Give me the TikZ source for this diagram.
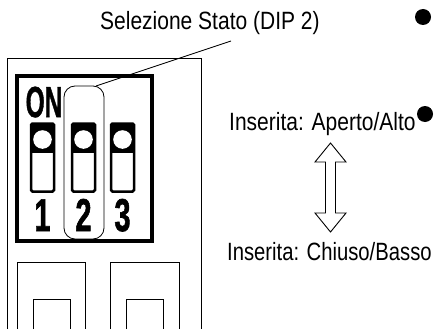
\documentclass[tikz,border=0pt]{standalone}
\usepackage{fontspec}
\setmainfont{Liberation Sans}
\newfontfamily\heavyfont{Liberation Sans Bold}[FakeBold=1.5]
\newcommand{\cond}[2][0.84]{\scalebox{#1}[1]{#2}}
\begin{document}
\begin{tikzpicture}[x=1pt,y=-1pt,
  label/.style={inner sep=0pt,anchor=base west,font=\fontsize{25}{25}\selectfont},
  thin line/.style={line width=0.9pt},
  slotbox/.style={line width=2.5pt,rounded corners=1.5pt},
  bigtxt/.style={inner sep=0pt,anchor=base},
  dot/.style={circle,fill=black,inner sep=0pt,minimum size=16pt}]
\useasboundingbox (0,0) rectangle (435,329);
% outer housing
\draw[thin line] (7,329) -- (7,58) -- (201,58) -- (201,329);
% DIP block
\draw[line width=3.5pt] (17,76) rectangle (152,241);
\node[bigtxt] (on) at (44,117) {\scalebox{1.22}[2.17]{\fontsize{20}{20}\heavyfont ON}};
% switches
\foreach \cx/\n in {42.5/1,83.5/2,122.5/3}{
  \fill (\cx-11.5,123.5) rectangle (\cx+11.5,153);
  \fill[white] (\cx,139.5) circle[radius=9.3pt];
  \draw[slotbox] (\cx-11.5,123.5) rectangle (\cx+11.5,191.5);
  \node[bigtxt] (num\n) at (\cx,231) {\scalebox{1.45}[2.3]{\fontsize{20}{20}\heavyfont \n}};
}
% highlight of DIP 2
\draw[line width=0.8pt,rounded corners=11pt] (64,86) rectangle (104,239);
\coordinate (hl) at (96,86);
% lower pads
\draw[thin line] (17,329) -- (17,262) -- (85,262) -- (85,329);
\draw[thin line] (33,329) -- (33,299) -- (70,299) -- (70,329);
\draw[thin line] (110,329) -- (110,262) -- (179,262) -- (179,329);
\draw[thin line] (126,329) -- (126,299) -- (163,299) -- (163,329);
% labels
\node[label] (sel) at (100,30) {\cond{Selezione Stato (DIP 2)}};
\coordinate (selend) at (231,41);
\draw[line width=0.8pt] (hl) -- (selend);
\node[label] (open) at (229,130) {\cond{Inserita: Aperto/Alto}};
\node[label] (closed) at (227,260) {\cond[0.81]{Inserita: Chiuso/Basso}};
\node[dot] (d1) at (423,17) {};
\node[dot] (d2) at (425,114) {};
% double arrow
\draw[line width=0.9pt] (330.5,143) -- (346,162) -- (335.5,162) -- (335.5,213) -- (346,213) -- (330.5,232) -- (315,213) -- (325.5,213) -- (325.5,162) -- (315,162) -- cycle;
\end{tikzpicture}
\end{document}
